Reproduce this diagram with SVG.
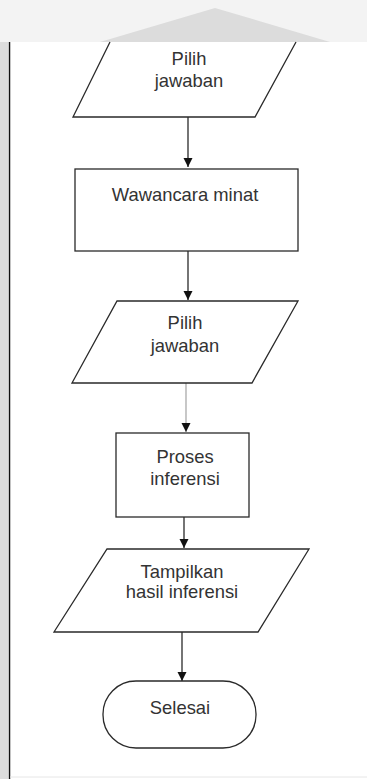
<svg xmlns="http://www.w3.org/2000/svg" width="367" height="779" viewBox="0 0 367 779">
<style>
.shape{fill:#fff;stroke:#2a2a2a;stroke-width:1.3}
.lbl{font-family:"Liberation Sans",Arial,sans-serif;font-size:18.4px;fill:#333;text-anchor:middle}
.conn{stroke:#2a2a2a;stroke-width:1.3;fill:none}
</style>
<defs>
<marker id="ah" markerWidth="10" markerHeight="10" refX="9" refY="4.5" orient="auto" markerUnits="userSpaceOnUse">
<path d="M0,0 L9,4.5 L0,9 Z" fill="#111"/>
</marker>
</defs>
<rect width="367" height="779" fill="#fff"/>
<g id="watermark">
<rect x="0" y="0" width="367" height="42" fill="#f3f3f3"/>
<path d="M100,42 L215,8 L330,42 Z" fill="#dcdcdc"/>
<rect x="0" y="42" width="8" height="737" fill="#dcdcdc"/>
<line x1="9.5" y1="42" x2="9.5" y2="779" stroke="#111" stroke-width="1.5"/>
<line x1="10" y1="777" x2="367" y2="777" stroke="#e6e6e6" stroke-width="1"/>
</g>
<g id="connectors">
<line class="conn" x1="188" y1="117" x2="188" y2="167" marker-end="url(#ah)"/>
<line class="conn" x1="188" y1="251" x2="188" y2="300" marker-end="url(#ah)"/>
<line class="conn" x1="186" y1="383" x2="186" y2="432" style="stroke:#aaa" marker-end="url(#ah)"/>
<line class="conn" x1="184" y1="517" x2="184" y2="548" marker-end="url(#ah)"/>
<line class="conn" x1="182" y1="632" x2="182" y2="681" marker-end="url(#ah)"/>
</g>
<g id="input1">
<path class="shape" d="M110,42 L73,117 L255,117 L296,42"/>
<text class="lbl" x="189" y="65">Pilih</text>
<text class="lbl" x="189" y="87">jawaban</text>
</g>
<g id="process1">
<rect class="shape" x="75" y="169" width="223" height="82"/>
<text class="lbl" x="185" y="201">Wawancara minat</text>
</g>
<g id="input2">
<path class="shape" d="M117,301 L298,301 L252,383 L72,383 Z"/>
<text class="lbl" x="185" y="329">Pilih</text>
<text class="lbl" x="185" y="352">jawaban</text>
</g>
<g id="process2">
<rect class="shape" x="116" y="433" width="133" height="84"/>
<text class="lbl" x="185" y="463">Proses</text>
<text class="lbl" x="185" y="485">inferensi</text>
</g>
<g id="output1">
<path class="shape" d="M107,549 L309,549 L258,632 L54,632 Z"/>
<text class="lbl" x="182" y="578">Tampilkan</text>
<text class="lbl" x="182" y="598">hasil inferensi</text>
</g>
<g id="terminal">
<rect class="shape" x="103" y="681" width="153" height="67" rx="33" ry="33"/>
<text class="lbl" x="180" y="714">Selesai</text>
</g>
</svg>
